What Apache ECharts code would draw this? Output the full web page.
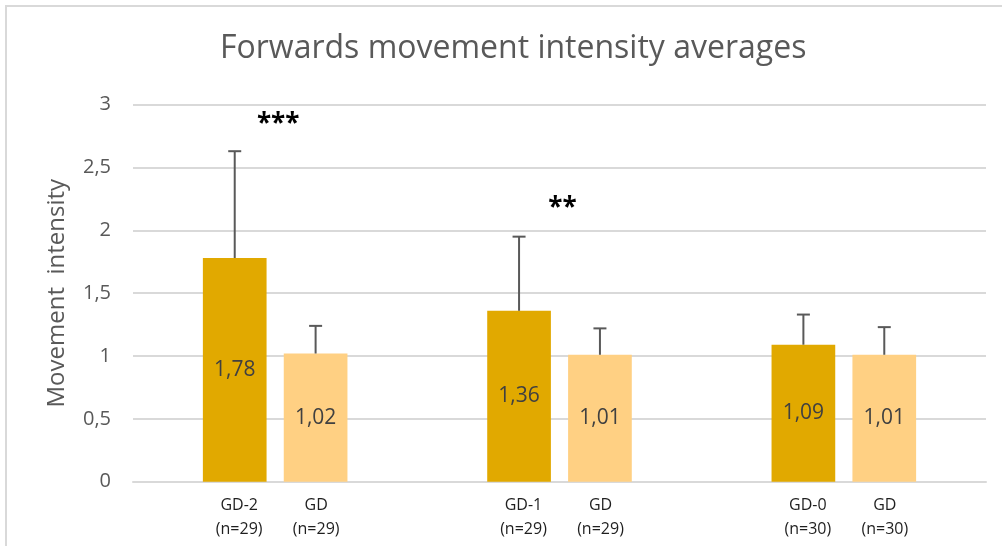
<!DOCTYPE html>
<html>
<head>
<meta charset="utf-8">
<script src="https://cdn.jsdelivr.net/npm/echarts@6/dist/echarts.min.js"></script>
<style>
  html, body { margin: 0; padding: 0; background: #fff; }
  #chart { width: 1002px; height: 546px; }
</style>
</head>
<body>
<div id="chart"></div>
<script>
// Group labels (pre-treatment day) and matching control labels
const groupLabels = ['GD-2\n(n=29)', 'GD-1\n(n=29)', 'GD-0\n(n=30)'];
const controlLabels = ['GD\n(n=29)', 'GD\n(n=29)', 'GD\n(n=30)'];

// Mean movement intensity and upper end of the error bar
const groupMeans = [1.78, 1.36, 1.09];
const groupUpper = [2.63, 1.95, 1.33];
const controlMeans = [1.02, 1.01, 1.01];
const controlUpper = [1.24, 1.22, 1.23];

// Significance markers and the value they sit at
const sigMarks = ['***', '**', ''];
const sigLevels = [2.84, 2.17, 0];

const yTicks = { min: 0, max: 3, interval: 0.5 };

const BAR_FRAC = 0.224;   // bar width as a share of the category band
const GAP_FRAC = 0.27;    // gap between paired bars as a share of bar width
const FONT = '"Open Sans", "Noto Sans", sans-serif';

const comma = v => String(v).replace('.', ',');

function errorBars(side) {
  return function (params, api) {
    const i = api.value(0);
    const band = api.size([1, 0])[0];
    const w = band * BAR_FRAC;
    const dx = side * (w + w * GAP_FRAC) / 2;
    const top = api.coord([i, api.value(1)]);
    const base = api.coord([i, api.value(2)]);
    const x = top[0] + dx;
    const style = { stroke: '#595959', lineWidth: 2 };
    return {
      type: 'group',
      children: [
        { type: 'line', shape: { x1: x, y1: base[1], x2: x, y2: top[1] }, style },
        { type: 'line', shape: { x1: x - 6.5, y1: top[1], x2: x + 6.5, y2: top[1] }, style }
      ]
    };
  };
}

const chart = echarts.init(document.getElementById('chart'), null, { renderer: 'canvas' });

chart.setOption({
  backgroundColor: '#ffffff',
  animation: false,
  title: {
    text: 'Forwards movement intensity averages',
    left: 215,
    top: 28,
    textStyle: { fontFamily: FONT, fontSize: 32, fontWeight: 'normal', color: '#595959' }
  },
  graphic: [
    { type: 'polyline', shape: { points: [[6, 546], [6, 6], [1002, 6]] },
      style: { stroke: '#d9d9d9', lineWidth: 2, fill: null }, silent: true }
  ],
  grid: { left: 133, right: 16, top: 104.7, bottom: 64.3, containLabel: false },
  xAxis: [
    {
      type: 'category',
      data: groupLabels,
      axisLine: { lineStyle: { color: '#d9d9d9', width: 2 } },
      axisTick: { show: false },
      axisLabel: {
        fontFamily: FONT, fontSize: 16, color: '#1f1f1f', lineHeight: 24,
        margin: 12, padding: [0, 72, 0, 0]
      }
    },
    {
      type: 'category',
      data: controlLabels,
      position: 'bottom',
      gridIndex: 0,
      axisLine: { show: false },
      axisTick: { show: false },
      axisLabel: {
        fontFamily: FONT, fontSize: 16, color: '#1f1f1f', lineHeight: 24,
        margin: 12, padding: [0, 0, 0, 82]
      }
    }
  ],
  yAxis: {
    type: 'value',
    min: yTicks.min,
    max: yTicks.max,
    interval: yTicks.interval,
    name: 'Movement  intensity',
    nameLocation: 'middle',
    nameGap: 64,
    nameTextStyle: { fontFamily: FONT, fontSize: 24, color: '#595959' },
    axisLine: { show: false },
    axisTick: { show: false },
    splitLine: { lineStyle: { color: '#d9d9d9', width: 2 } },
    axisLabel: {
      fontFamily: FONT, fontSize: 20, color: '#595959', margin: 22,
      formatter: comma
    }
  },
  series: [
    {
      type: 'bar',
      xAxisIndex: 0,
      data: groupMeans,
      barWidth: (BAR_FRAC * 100) + '%',
      barGap: (GAP_FRAC * 100) + '%',
      itemStyle: { color: '#e1a900' },
      label: {
        show: true, position: 'inside', fontFamily: FONT, fontSize: 21, color: '#404040',
        formatter: p => comma(p.value.toFixed(2))
      },
      z: 2
    },
    {
      type: 'bar',
      xAxisIndex: 0,
      data: controlMeans,
      barWidth: (BAR_FRAC * 100) + '%',
      barGap: (GAP_FRAC * 100) + '%',
      itemStyle: { color: '#ffd083' },
      label: {
        show: true, position: 'inside', fontFamily: FONT, fontSize: 21, color: '#404040',
        formatter: p => comma(p.value.toFixed(2))
      },
      z: 2
    },
    {
      type: 'custom',
      xAxisIndex: 0,
      renderItem: errorBars(-1),
      data: groupMeans.map((m, i) => [i, groupUpper[i], m]),
      z: 3
    },
    {
      type: 'custom',
      xAxisIndex: 0,
      renderItem: errorBars(1),
      data: controlMeans.map((m, i) => [i, controlUpper[i], m]),
      z: 3
    },
    {
      type: 'custom',
      xAxisIndex: 0,
      renderItem: function (params, api) {
        const i = api.value(0);
        const txt = sigMarks[i];
        if (!txt) return null;
        const p = api.coord([i, api.value(1)]);
        return {
          type: 'text',
          x: p[0] + 3,
          y: p[1],
          style: {
            text: txt, fill: '#000', font: 'bold 26px ' + FONT,
            align: 'center', verticalAlign: 'middle',
            textAlign: 'center', textVerticalAlign: 'middle'
          }
        };
      },
      data: sigLevels.map((v, i) => [i, v]),
      z: 4
    }
  ]
});
</script>
</body>
</html>
